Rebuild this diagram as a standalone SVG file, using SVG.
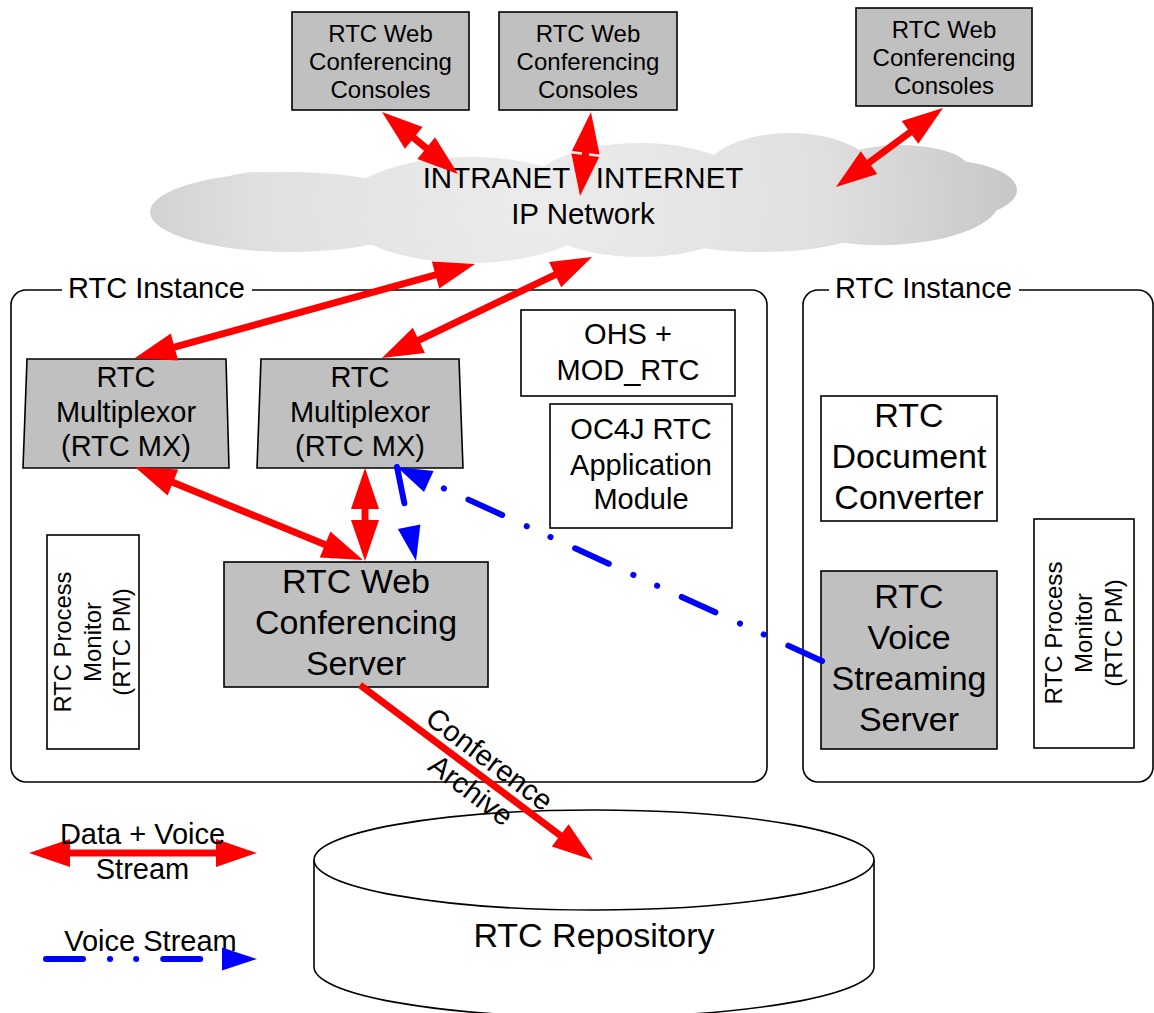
<svg xmlns="http://www.w3.org/2000/svg" width="1154" height="1013" viewBox="0 0 1154 1013">
<defs>
<style>
.box{stroke:#000;stroke-width:1.6}
.gray{fill:#c0c0c0}
.white{fill:#fff}
.cont{fill:none;stroke:#000;stroke-width:1.6}
.t{font-family:"Liberation Sans",Arial,Helvetica,sans-serif;fill:#000;text-anchor:middle}
.ts{text-anchor:start}
.f24{font-size:24px}
.f29{font-size:29px}
.f34{font-size:34px}
.red{stroke:#f00;stroke-width:7;fill:none}
.blue{stroke:#00f;stroke-width:6;fill:none;stroke-linecap:round;stroke-dasharray:37 27 0.1 26 0.1 27}
</style>
<radialGradient id="cg" gradientUnits="userSpaceOnUse" cx="540" cy="200" r="470">
<stop offset="0" stop-color="#ececec"/>
<stop offset="0.6" stop-color="#e0e0e0"/>
<stop offset="1" stop-color="#c8c8c8"/>
</radialGradient>
<marker id="rh" markerUnits="userSpaceOnUse" markerWidth="43" markerHeight="30" viewBox="-2 -15 43 30" refX="0" refY="0" orient="auto-start-reverse">
<path d="M-1,-14 L40,0 L-1,14 z" fill="#f00"/>
</marker>
<marker id="bh" markerUnits="userSpaceOnUse" markerWidth="38" markerHeight="26" viewBox="-2 -13 38 26" refX="0" refY="0" orient="auto">
<path d="M0,-11.5 L35,0 L0,11.5 z" fill="#00f"/>
</marker>
</defs>
<rect width="1154" height="1013" fill="#fff"/>

<g id="instance-left">
<rect x="11" y="290" width="756" height="492" rx="15" class="cont"/>
<rect x="62" y="278" width="190" height="24" fill="#fff"/>
<text x="68" y="298" class="t ts f29">RTC Instance</text>
</g>
<g id="instance-right">
<rect x="803" y="290" width="350" height="492" rx="15" class="cont"/>
<rect x="829" y="278" width="190" height="24" fill="#fff"/>
<text x="835" y="298" class="t ts f29">RTC Instance</text>
</g>

<g id="cloud">
<g fill="url(#cg)">
<ellipse cx="290" cy="212" rx="140" ry="40"/>
<ellipse cx="260" cy="200" rx="60" ry="28"/>
<ellipse cx="470" cy="210" rx="130" ry="53"/>
<ellipse cx="640" cy="200" rx="120" ry="57"/>
<ellipse cx="790" cy="180" rx="90" ry="47"/>
<ellipse cx="880" cy="200" rx="120" ry="45"/>
<ellipse cx="940" cy="190" rx="77" ry="30"/>
<ellipse cx="900" cy="170" rx="70" ry="25"/>
<ellipse cx="760" cy="225" rx="110" ry="27"/>
</g>
<text class="t" style="font-size:29.5px"><tspan x="583" y="188">INTRANET - INTERNET</tspan><tspan x="583" y="224">IP Network</tspan></text>
</g>

<g id="console-1">
<rect x="292" y="12" width="177" height="98" class="box gray"/>
<text class="t f24"><tspan x="380.5" y="42">RTC Web</tspan><tspan x="380.5" y="70">Conferencing</tspan><tspan x="380.5" y="98">Consoles</tspan></text>
</g>
<g id="console-2">
<rect x="499" y="12" width="178" height="98" class="box gray"/>
<text class="t f24"><tspan x="588" y="42">RTC Web</tspan><tspan x="588" y="70">Conferencing</tspan><tspan x="588" y="98">Consoles</tspan></text>
</g>
<g id="console-3">
<rect x="856" y="8" width="176" height="98" class="box gray"/>
<text class="t f24"><tspan x="944" y="38">RTC Web</tspan><tspan x="944" y="66">Conferencing</tspan><tspan x="944" y="94">Consoles</tspan></text>
</g>

<g id="mx-1">
<polygon points="27,359 226,359 229,468 23,468" class="box gray"/>
<text class="t f29"><tspan x="126" y="387">RTC</tspan><tspan x="126" y="422">Multiplexor</tspan><tspan x="126" y="456">(RTC MX)</tspan></text>
</g>
<g id="mx-2">
<polygon points="261,359 459,359 463,468 257,468" class="box gray"/>
<text class="t f29"><tspan x="360" y="387">RTC</tspan><tspan x="360" y="422">Multiplexor</tspan><tspan x="360" y="456">(RTC MX)</tspan></text>
</g>
<g id="ohs">
<rect x="521" y="310" width="214" height="86" class="box white"/>
<text class="t f29"><tspan x="628" y="344">OHS +</tspan><tspan x="628" y="380">MOD_RTC</tspan></text>
</g>
<g id="oc4j">
<rect x="550" y="404" width="182" height="124" class="box white"/>
<text class="t f29"><tspan x="641" y="439">OC4J RTC</tspan><tspan x="641" y="475">Application</tspan><tspan x="641" y="509">Module</tspan></text>
</g>
<g id="pm-left">
<rect x="47" y="535" width="92" height="214" class="box white"/>
<g transform="translate(92,642) rotate(-90)">
<text class="t f24"><tspan x="0" y="-21.4" textLength="141" lengthAdjust="spacingAndGlyphs">RTC Process</tspan><tspan x="0" y="8.6">Monitor</tspan><tspan x="0" y="37.6">(RTC PM)</tspan></text>
</g>
</g>
<g id="web-conf-server">
<rect x="224" y="562" width="264" height="125" class="box gray"/>
<text class="t f34"><tspan x="356" y="593">RTC Web</tspan><tspan x="356" y="634">Conferencing</tspan><tspan x="356" y="675">Server</tspan></text>
</g>
<g id="doc-converter">
<rect x="821" y="396" width="176" height="125" class="box white"/>
<text class="t f34"><tspan x="909" y="427">RTC</tspan><tspan x="909" y="468">Document</tspan><tspan x="909" y="509">Converter</tspan></text>
</g>
<g id="voice-streaming-server">
<rect x="821" y="571" width="176" height="178" class="box gray"/>
<text class="t f34"><tspan x="909" y="608">RTC</tspan><tspan x="909" y="649">Voice</tspan><tspan x="909" y="690">Streaming</tspan><tspan x="909" y="731">Server</tspan></text>
</g>
<g id="pm-right">
<rect x="1034" y="519" width="100" height="229" class="box white"/>
<g transform="translate(1083,633) rotate(-90)">
<text class="t f24"><tspan x="0" y="-21.4" textLength="143" lengthAdjust="spacingAndGlyphs">RTC Process</tspan><tspan x="0" y="8.6">Monitor</tspan><tspan x="0" y="38.6">(RTC PM)</tspan></text>
</g>
</g>
<g id="repository">
<path d="M314,860 L314,967 A280,50 0 0 0 874,967 L874,860" fill="#fff" stroke="#000" stroke-width="1.6"/>
<ellipse cx="594" cy="860" rx="280" ry="50" fill="#fff" stroke="#000" stroke-width="1.6"/>
<text x="594" y="947" class="t f34">RTC Repository</text>
</g>

<g id="connectors">
<path class="red" d="M413,137.3 L427,148.7" marker-start="url(#rh)" marker-end="url(#rh)"/>
<path class="red" d="M585.8,151.7 L585.2,156.3" marker-start="url(#rh)" marker-end="url(#rh)"/>
<path class="red" d="M910.8,131.8 L868.2,163.2" marker-start="url(#rh)" marker-end="url(#rh)"/>
<path class="red" d="M436.5,274.7 L173.5,347.3" marker-start="url(#rh)" marker-end="url(#rh)"/>
<path class="red" d="M556,274.3 L418,340.7" marker-start="url(#rh)" marker-end="url(#rh)"/>
<path class="red" d="M172,482.1 L326,544.9" marker-start="url(#rh)" marker-end="url(#rh)"/>
<path class="red" d="M365,508 L365,521" marker-start="url(#rh)" marker-end="url(#rh)"/>
<path class="red" d="M360,685 L561,836" marker-end="url(#rh)"/>
<path class="blue" d="M822,661 L428.8,481.5" marker-end="url(#bh)"/>
<path class="blue" d="M397,467 L409.1,526.7" marker-end="url(#bh)"/>
<g transform="translate(480,775) rotate(37)">
<text class="t f29"><tspan x="-2" y="-8.5">Conference</tspan><tspan x="2" y="27.5">Archive</tspan></text>
</g>
</g>

<g id="legend">
<path class="red" d="M69,853 L217,853" marker-start="url(#rh)" marker-end="url(#rh)"/>
<text class="t f29"><tspan x="142.5" y="844">Data + Voice</tspan><tspan x="142.5" y="879">Stream</tspan></text>
<text x="150.5" y="951" class="t f29">Voice Stream</text>
<path class="blue" d="M46,959 L222,959" marker-end="url(#bh)"/>
</g>
</svg>
